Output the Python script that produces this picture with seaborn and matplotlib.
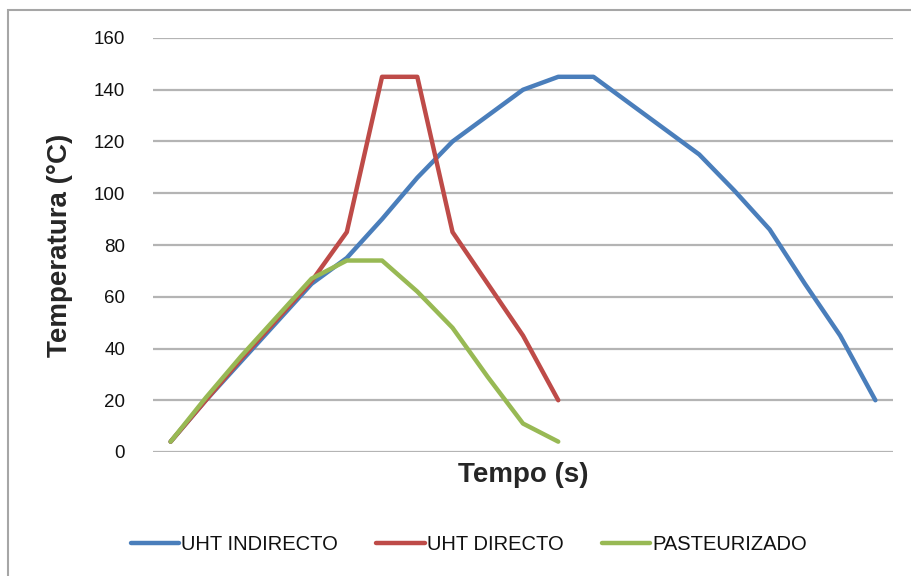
import seaborn as sns
import matplotlib.pyplot as plt
import pandas as pd
from matplotlib.patches import Rectangle

# temperature readings per time step (no time values on the axis)
uht_indirecto = [4, 20, 35, 50, 65, 75, 90, 106, 120, 130, 140, 145, 145, 135, 125, 115, 101, 86, 65, 45, 20]
uht_directo = [4, 20, 36, 51, 66, 85, 145, 145, 85, 65, 45, 20]
pasteurizado = [4, 21, 37, 52, 67, 74, 74, 62, 48, 29, 11, 4]
series_names = ['UHT INDIRECTO', 'UHT DIRECTO', 'PASTEURIZADO']
y_ticks = [0, 20, 40, 60, 80, 100, 120, 140, 160]

rows = []
for name, vals in zip(series_names, [uht_indirecto, uht_directo, pasteurizado]):
    for i, v in enumerate(vals):
        rows.append({'paso': i, 'temp': v, 'serie': name})
df = pd.DataFrame(rows)

sns.set_style('white')
plt.rcParams['font.family'] = ['Liberation Sans', 'DejaVu Sans']

fig = plt.figure(figsize=(9.12, 5.76), dpi=100)
ax = fig.add_axes([153 / 912, 1 - 452 / 576, 740 / 912, 414 / 576])

colors = ['#4A7EBB', '#BE4B48', '#98B954']
sns.lineplot(data=df, x='paso', y='temp', hue='serie', hue_order=series_names,
             palette=colors, linewidth=3.2, ax=ax, legend=False)

ax.set_xlim(-0.5, 20.5)
ax.set_ylim(0, 160)
ax.set_yticks(y_ticks)
ax.set_xticks([])
ax.yaxis.grid(True, color='#b4b4b4', linewidth=1.6)
ax.set_axisbelow(True)
for s in ax.spines.values():
    s.set_visible(False)
ax.tick_params(axis='y', length=0, pad=20, labelsize=13.5, labelcolor='#111111')
ax.set_xlabel('Tempo (s)', fontsize=20, fontweight='bold', labelpad=7)
ax.set_ylabel('Temperatura (°C)', fontsize=20, fontweight='bold', labelpad=15)

handles = [plt.Line2D([], [], color=c, linewidth=3.2) for c in colors]
fig.legend(handles, series_names, loc='center', bbox_to_anchor=(0.514, 0.054), ncol=3,
           frameon=False, fontsize=14.5, handlelength=2.4, handletextpad=0.1, columnspacing=1.9,
           labelcolor='#111111')

fig.patches.append(Rectangle((8 / 912, -0.02), 1.05, 1.02 - 10 / 576, transform=fig.transFigure,
                             fill=False, edgecolor='#a6a6a6', linewidth=1.5))

fig.savefig('out.png', dpi=100)
